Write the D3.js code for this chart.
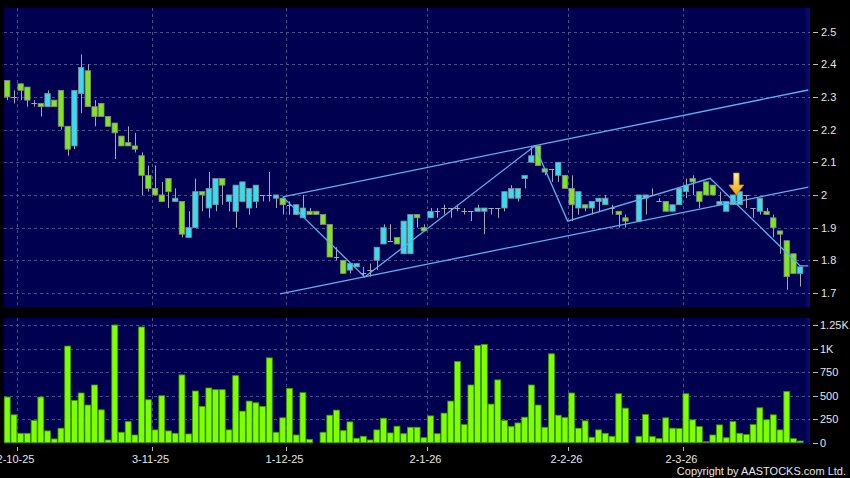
<!DOCTYPE html>
<html>
<head>
<meta charset="utf-8">
<script src="https://cdn.jsdelivr.net/npm/d3@7"></script>
<style>
  body { margin: 0; background: #000; }
  svg { display: block; }
  text { font-family: "Liberation Sans", Arial, sans-serif; }
</style>
</head>
<body>
<svg width="850" height="478"></svg>
<script>
// daily bars, index 0 = 29-9-25 ... 118 = last day (null = no trade)
var opens = [2.35,2.30,2.34,2.33,2.28,2.28,2.27,2.29,2.32,2.21, 2.15,2.31,2.38,2.27,2.28,2.24,2.22,2.18,2.16,2.15,
  2.12,2.06,2.02,2.00,2.05,1.98,1.98,1.87,1.90,2.01, 1.96,1.97,2.05,1.98,1.95,1.98,1.96,1.98,2.00,2.00,
  1.99,1.99,1.97,1.94,1.93,1.95,1.95,1.94,1.91,1.81, 1.80,1.77,1.78,1.76,1.77,1.80,1.85,1.86,1.87,1.82,
  1.82,1.94,1.90,1.93,1.95,1.96,1.96,1.96,1.95,1.95, 1.95,1.95,1.96,1.96,1.96,1.99,1.99,2.05,2.10,2.15,
  2.08,2.08,2.06,2.06,2.02,1.96,1.97,1.96,1.98,1.97, 1.96,1.95,1.93,null,1.92,1.99,2.00,1.98,1.98,1.95,
  1.97,2.01,2.05,2.01,2.04,2.03,1.97,1.95,1.97,1.97, 2.00,1.96,1.95,1.95,1.93,1.89,1.86,1.82,1.76];
var highs = [2.35,2.32,2.34,2.33,2.29,2.28,2.32,2.29,2.32,2.21, 2.32,2.43,2.40,2.29,2.28,2.24,2.22,2.18,2.21,2.19,
  2.13,2.09,2.09,2.04,2.05,2.02,1.98,1.95,2.05,2.01, 2.07,2.05,2.05,2.00,2.03,2.04,2.02,2.03,2.00,2.07,
  2.00,1.99,1.98,1.97,2.00,1.96,1.95,1.94,1.91,1.84, 1.80,1.79,1.79,1.78,1.79,1.84,1.91,1.91,1.87,1.92,
  1.94,1.94,1.91,1.96,1.96,1.97,1.96,1.97,1.96,1.95, 1.97,1.96,1.96,1.96,2.01,2.03,2.02,2.06,2.15,2.15,
  2.08,2.08,2.10,2.06,2.06,2.01,1.97,1.98,1.99,2.00, 1.97,1.95,1.94,null,2.00,2.00,2.02,1.99,1.98,1.97,
  2.02,2.05,2.06,2.01,2.04,2.03,2.01,1.98,2.00,2.01, 2.00,1.96,1.99,1.96,1.94,1.89,1.86,1.82,1.78];
var lows = [2.29,2.28,2.29,2.27,2.27,2.24,2.27,2.27,2.20,2.12, 2.14,2.25,2.27,2.21,2.24,2.21,2.11,2.15,2.15,2.13,
  2.00,2.01,2.00,1.98,1.96,1.98,1.87,1.87,1.90,1.95, 1.93,1.95,1.97,1.95,1.90,1.98,1.94,1.96,1.98,1.98,
  1.96,1.94,1.94,1.94,1.93,1.94,1.94,1.91,1.81,1.80, 1.76,1.76,1.78,1.75,1.75,1.77,1.85,1.86,1.85,1.82,
  1.82,1.90,1.89,1.93,1.93,1.94,1.93,1.95,1.94,1.92, 1.95,1.88,1.94,1.93,1.95,1.99,1.98,2.02,2.10,2.09,
  2.06,2.04,2.04,2.02,1.92,1.94,1.95,1.94,1.95,1.97, 1.94,1.90,1.90,null,1.92,1.94,2.00,1.98,1.95,1.95,
  1.97,1.99,2.00,1.96,2.00,2.00,1.97,1.95,1.97,1.97, 1.96,1.93,1.94,1.94,1.87,1.82,1.71,1.76,1.72];
var closes = [2.30,2.30,2.32,2.29,2.28,2.27,2.31,2.27,2.21,2.14, 2.32,2.39,2.27,2.24,2.24,2.21,2.19,2.15,2.15,2.14,
  2.06,2.02,2.00,1.98,2.01,1.99,1.88,1.90,2.01,2.00, 2.02,2.05,2.03,2.00,2.03,2.04,2.02,2.03,2.00,2.00,
  2.00,1.97,1.97,1.97,1.96,1.94,1.94,1.91,1.81,1.81, 1.76,1.79,1.79,1.76,1.77,1.84,1.90,1.86,1.85,1.92,
  1.94,1.93,1.89,1.95,1.95,1.96,1.96,1.96,1.95,1.95, 1.96,1.96,1.96,1.96,2.01,2.02,2.02,2.06,2.12,2.09,
  2.07,2.08,2.10,2.02,1.97,2.01,1.96,1.98,1.99,1.99, 1.96,1.94,1.92,null,2.00,2.00,2.00,1.98,1.95,1.97,
  2.02,2.03,2.04,1.98,2.00,2.00,1.98,1.98,2.00,2.01, 2.00,1.96,1.99,1.94,1.90,1.88,1.75,1.76,1.78];
var volumes = [485,296,100,100,235,485,125,40,154,1026, 449,528,400,613,349,29,1250,111,224,82,
  1229,456,136,499,125,100,720,93,549,385, 581,563,563,136,712,335,442,424,385,901,
  111,264,577,82,531,36,0,111,292,346, 128,221,47,68,29,136,260,104,175,96,
  164,164,53,285,96,314,442,862,192,613, 1033,1044,410,667,235,171,210,271,613,400,
  164,944,292,267,528,154,232,58,136,100, 68,520,367,0,68,299,64,43,264,154,
  150,520,243,171,10,82,189,53,224,100, 86,192,371,243,296,136,545,43,18];

var dateLabels = ["2-10-25", "3-11-25", "1-12-25", "2-1-26", "2-2-26", "2-3-26"];
var dateIndex = [2, 22, 42, 63, 84, 101];

var priceTicks = [1.7, 1.8, 1.9, 2.0, 2.1, 2.2, 2.3, 2.4, 2.5];
var volTicks = [0, 250, 500, 750, 1000, 1250];
var volTickLabels = ["0", "250", "500", "750", "1K", "1.25K"];

// drawn trend lines, [bar index, price]
var zigzag = [[41, 1.994], [53.2, 1.749], [78.5, 2.15], [83.4, 1.92], [104.6, 2.051], [118, 1.783], [119.2, 1.783]];
var channelTop = [[41, 1.994], [119.2, 2.321]];
var channelBottom = [[40.6, 1.697], [119.2, 2.024]];
var arrowAt = [108.5, 2.0];

var svg = d3.select("svg");
var n = opens.length;

var panelLeft = 4, panelRight = 810;
var priceTop = 8, priceBottom = 307;
var volTop = 318, volBottom = 444;

var x = d3.scaleLinear().domain([0, n]).range([3.85, 3.85 + n * 6.72]);
var step = x(1) - x(0);
var y = d3.scaleLinear().domain([1.7, 2.5]).range([293, 31.5]);
var yv = d3.scaleLinear().domain([0, 1250]).range([442.7, 325]);

var green = "#7ee61c", cyan = "#38dcef", wickColor = "#a8a8a8";

svg.append("rect").attr("width", 850).attr("height", 478).attr("fill", "#000");

var defs = svg.append("defs");
var edge = defs.append("linearGradient").attr("id", "edge").attr("x1", 0).attr("x2", 1);
edge.append("stop").attr("offset", "0").attr("stop-color", "#000050");
edge.append("stop").attr("offset", "1").attr("stop-color", "#0a0f78");
var arrowGrad = defs.append("linearGradient").attr("id", "arrowGrad").attr("x1", 0).attr("y1", 0).attr("x2", 0).attr("y2", 1);
arrowGrad.append("stop").attr("offset", "0").attr("stop-color", "#fff2a0");
arrowGrad.append("stop").attr("offset", "1").attr("stop-color", "#f0a400");

[[priceTop, priceBottom], [volTop, volBottom]].forEach(function (p) {
    svg.append("rect")
        .attr("x", panelLeft).attr("y", p[0])
        .attr("width", panelRight - panelLeft).attr("height", p[1] - p[0])
        .attr("fill", "#000050");
    svg.append("rect")
        .attr("x", panelRight - 6).attr("y", p[0])
        .attr("width", 6).attr("height", p[1] - p[0])
        .attr("fill", "url(#edge)");
});

// grid
var grid = svg.append("g").attr("stroke", "#4c4c8e").attr("stroke-dasharray", "3,3").attr("stroke-width", 1);
grid.selectAll(".hp").data(priceTicks).enter().append("line")
    .attr("x1", panelLeft).attr("x2", panelRight)
    .attr("y1", function (d) { return Math.round(y(d)) + 0.5; })
    .attr("y2", function (d) { return Math.round(y(d)) + 0.5; });
grid.selectAll(".hv").data(volTicks.slice(1)).enter().append("line")
    .attr("x1", panelLeft).attr("x2", panelRight)
    .attr("y1", function (d) { return Math.round(yv(d)) + 0.5; })
    .attr("y2", function (d) { return Math.round(yv(d)) + 0.5; });
dateIndex.forEach(function (di) {
    var gx = Math.round(x(di)) + 0.5;
    grid.append("line").attr("x1", gx).attr("x2", gx).attr("y1", priceTop).attr("y2", priceBottom);
    grid.append("line").attr("x1", gx).attr("x2", gx).attr("y1", volTop).attr("y2", volBottom);
});

// candles
var bars = d3.range(n).filter(function (i) { return opens[i] !== null; });
var candles = svg.append("g");
var bodyW = 5.4;

candles.selectAll(".wick").data(bars).enter().append("line")
    .attr("x1", function (i) { return Math.round(x(i) + step / 2) + 0.5; })
    .attr("x2", function (i) { return Math.round(x(i) + step / 2) + 0.5; })
    .attr("y1", function (i) { return y(highs[i]); })
    .attr("y2", function (i) { return y(lows[i]); })
    .attr("stroke", wickColor).attr("stroke-width", 1);

candles.selectAll(".body").data(bars.filter(function (i) { return opens[i] !== closes[i]; })).enter().append("rect")
    .attr("x", function (i) { return x(i) + (step - bodyW) / 2; })
    .attr("width", bodyW)
    .attr("y", function (i) { return y(Math.max(opens[i], closes[i])); })
    .attr("height", function (i) { return Math.max(1, Math.abs(y(opens[i]) - y(closes[i]))); })
    .attr("fill", function (i) { return closes[i] > opens[i] ? cyan : green; })
    .attr("stroke", "#8a8a8a").attr("stroke-width", 0.8);

candles.selectAll(".doji").data(bars.filter(function (i) { return opens[i] === closes[i]; })).enter().append("line")
    .attr("x1", function (i) { return x(i) + (step - bodyW) / 2; })
    .attr("x2", function (i) { return x(i) + (step + bodyW) / 2; })
    .attr("y1", function (i) { return Math.round(y(closes[i])) + 0.5; })
    .attr("y2", function (i) { return Math.round(y(closes[i])) + 0.5; })
    .attr("stroke", wickColor).attr("stroke-width", 1);

// trend lines
var line = d3.line()
    .x(function (d) { return x(d[0] + 0.5); })
    .y(function (d) { return y(d[1]); });
[zigzag, channelTop, channelBottom].forEach(function (pts) {
    svg.append("path").datum(pts)
        .attr("d", line)
        .attr("fill", "none")
        .attr("stroke", "#5cb2ee")
        .attr("stroke-width", 1.3);
});

// arrow marker
var ax = x(arrowAt[0] + 0.5), ay = y(arrowAt[1]);
svg.append("path")
    .attr("d", "M" + (ax - 2.8) + "," + (ay - 22) + " L" + (ax + 2.8) + "," + (ay - 22) +
        " L" + (ax + 2.8) + "," + (ay - 10) + " L" + (ax + 7.5) + "," + (ay - 10) +
        " L" + ax + "," + ay + " L" + (ax - 7.5) + "," + (ay - 10) +
        " L" + (ax - 2.8) + "," + (ay - 10) + "Z")
    .attr("fill", "url(#arrowGrad)")
    .attr("stroke", "#c07800").attr("stroke-width", 0.8);

// volume
svg.append("g").selectAll("rect").data(d3.range(n).filter(function (i) { return volumes[i] > 0; })).enter().append("rect")
    .attr("x", function (i) { return x(i) + 0.4; })
    .attr("width", step - 0.8)
    .attr("y", function (i) { return yv(volumes[i]); })
    .attr("height", function (i) { return yv(0) - yv(volumes[i]); })
    .attr("fill", "#80ff00")
    .attr("stroke", "#3a9a00").attr("stroke-width", 0.8);

// right axes
var axisG = svg.append("g").attr("fill", "#e6e6e6").attr("font-size", 11);
priceTicks.forEach(function (t) {
    svg.append("line").attr("x1", 813).attr("x2", 818)
        .attr("y1", Math.round(y(t)) + 0.5).attr("y2", Math.round(y(t)) + 0.5)
        .attr("stroke", "#bbb");
    axisG.append("text").attr("x", 821).attr("y", y(t) + 4).text(d3.format("")(t));
});
volTicks.forEach(function (t, k) {
    svg.append("line").attr("x1", 813).attr("x2", 818)
        .attr("y1", Math.round(yv(t)) + 0.5).attr("y2", Math.round(yv(t)) + 0.5)
        .attr("stroke", "#bbb");
    axisG.append("text").attr("x", 820).attr("y", yv(t) + 4).text(volTickLabels[k]);
});

// date axis
dateIndex.forEach(function (di, k) {
    var gx = Math.round(x(di)) + 0.5;
    svg.append("line").attr("x1", gx).attr("x2", gx).attr("y1", 447).attr("y2", 451).attr("stroke", "#bbb");
    axisG.append("text").attr("x", gx - 2).attr("y", 463)
        .attr("text-anchor", "middle").text(dateLabels[k]);
});

svg.append("text")
    .attr("x", 846).attr("y", 475)
    .attr("text-anchor", "end")
    .attr("font-size", 11)
    .attr("fill", "#e6e6e6")
    .text("Copyright by AASTOCKS.com Ltd.");
</script>
</body>
</html>
